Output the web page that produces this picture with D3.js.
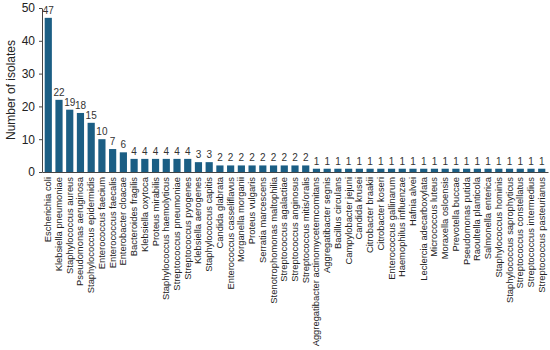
<!DOCTYPE html>
<html>
<head>
<meta charset="utf-8">
<script src="https://cdn.jsdelivr.net/npm/d3@7"></script>
<style>
  body { margin: 0; background: #fff; }
  text { font-family: "Liberation Sans", Arial, sans-serif; }
</style>
</head>
<body>
<div id="chart-area"></div>
<script>
var species = [
  "Escherichia coli", "Klebsiella pneumoniae", "Staphylococcus aureus", "Pseudomonas aeruginosa",
  "Staphylococcus epidermidis", "Enterococcus faecium", "Enterococcus faecalis", "Enterobacter cloacae",
  "Bacteroides fragilis", "Klebsiella oxytoca", "Proteus mirabilis", "Staphylococcus haemolyticus",
  "Streptococcus pneumoniae", "Streptococcus pyogenes", "Klebsiella aerogenes", "Staphylococcus capitis",
  "Candida glabrata", "Enterococcus casseliflavus", "Morganella morganii", "Proteus vulgaris",
  "Serratia marcescens", "Stenotrophomonas maltophilia", "Streptococcus agalactiae", "Streptococcus anginosus",
  "Streptococcus mitis/oralis", "Aggregatibacter actinomycetemcomitans", "Aggregatibacter segnis",
  "Bacillus circulans", "Campylobacter jejuni", "Candida krusei", "Citrobacter braakii", "Citrobacter koseri",
  "Enterococcus gallinarum", "Haemophilus influenzae", "Hafnia alvei", "Leclercia adecarboxylata",
  "Micrococcus luteus", "Moraxella osloensis", "Prevotella buccae", "Pseudomonas putida",
  "Raoultella planticola", "Salmonella enterica", "Staphylococcus hominis", "Staphylococcus saprophyticus",
  "Streptococcus constellatus", "Streptococcus intermedius", "Streptococcus pasteurianus"
];
var isolates = [
  47, 22, 19, 18, 15, 10, 7, 6,
  4, 4, 4, 4, 4, 4, 3, 3,
  2, 2, 2, 2, 2, 2, 2, 2, 2,
  1, 1, 1, 1, 1, 1, 1, 1, 1, 1, 1, 1, 1, 1, 1, 1, 1, 1, 1, 1, 1, 1
];
var yTicks = [0, 10, 20, 30, 40, 50];

var margin = {left: 42, right: 2, top: 8, bottom: 178};
var width = 550 - margin.left - margin.right;
var height = 350 - margin.top - margin.bottom;

var svg = d3.select("#chart-area").append("svg")
    .attr("width", 550)
    .attr("height", 350);
var g = svg.append("g")
    .attr("transform", "translate(" + margin.left + "," + margin.top + ")");

var x = d3.scaleBand()
    .domain(species)
    .range([0, width])
    .paddingInner(0.33)
    .paddingOuter(0.25);

var y = d3.scaleLinear()
    .domain([0, 50])
    .range([height, 0]);

// bars
g.selectAll("rect.bar")
    .data(isolates)
    .enter().append("rect")
    .attr("class", "bar")
    .attr("x", (d, i) => x(species[i]))
    .attr("y", d => y(d))
    .attr("width", x.bandwidth())
    .attr("height", d => height - y(d))
    .attr("fill", "#1b5e84");

// value labels
g.selectAll("text.val")
    .data(isolates)
    .enter().append("text")
    .attr("class", "val")
    .attr("x", (d, i) => x(species[i]) + x.bandwidth() / 2)
    .attr("y", d => y(d) - 4)
    .attr("text-anchor", "middle")
    .attr("font-size", "10px")
    .attr("fill", "#333")
    .text(d => d);

// x axis
var bottomAxis = d3.axisBottom(x).tickSize(0);
var xg = g.append("g")
    .attr("transform", "translate(0," + height + ")")
    .call(bottomAxis);
xg.select(".domain").attr("stroke", "#444").attr("stroke-width", 1.2);
xg.selectAll("text")
    .attr("font-size", "9.4px")
    .attr("fill", "#222")
    .attr("text-anchor", "end")
    .attr("dy", "0.32em")
    .attr("x", -5)
    .attr("y", 0)
    .attr("transform", "rotate(-90)");

// y axis
var leftAxis = d3.axisLeft(y).tickValues(yTicks).tickSize(3).tickPadding(4).tickSizeOuter(0);
var yg = g.append("g").call(leftAxis);
yg.select(".domain").attr("stroke", "#444");
yg.selectAll(".tick line").attr("stroke", "#444");
yg.selectAll("text").attr("font-size", "12px").attr("fill", "#222");

g.append("text")
    .attr("x", -height / 2)
    .attr("y", -27)
    .attr("transform", "rotate(-90)")
    .attr("text-anchor", "middle")
    .attr("font-size", "12px")
    .attr("fill", "#222")
    .text("Number of isolates");
</script>
</body>
</html>
